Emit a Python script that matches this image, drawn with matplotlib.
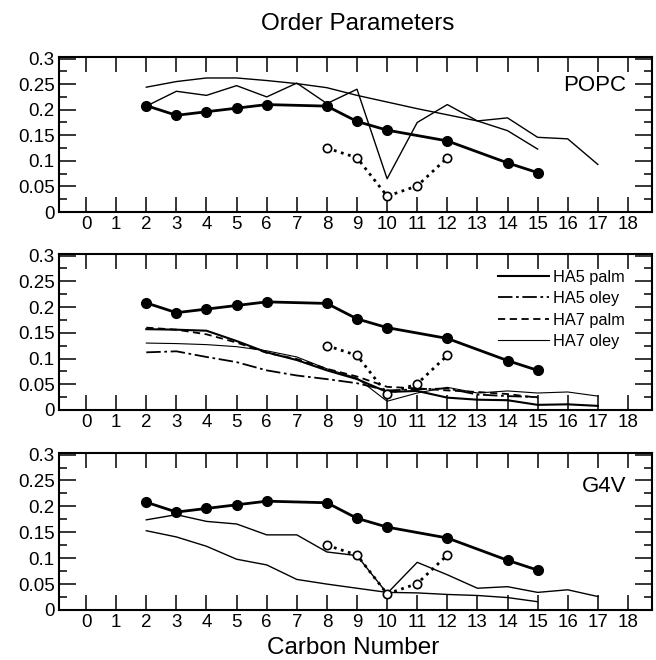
import numpy as np
import matplotlib
matplotlib.use("Agg")
import matplotlib.pyplot as plt
from matplotlib.ticker import MultipleLocator, FuncFormatter

plt.rcParams['font.family'] = ['Liberation Sans', 'DejaVu Sans']

# experimental reference (same in every panel)
exp_x = [2, 3, 4, 5, 6, 8, 9, 10, 12, 14, 15]
exp_y = [0.208, 0.189, 0.196, 0.203, 0.210, 0.207, 0.177, 0.160, 0.139, 0.096, 0.077]
exp2_x = [8, 9, 10, 11, 12]
exp2_y = [0.125, 0.106, 0.031, 0.051, 0.106]

# POPC
popc_palm_x = list(range(2, 16))
popc_palm = [0.244, 0.255, 0.262, 0.262, 0.257, 0.251, 0.243, 0.228, 0.215,
             0.202, 0.190, 0.178, 0.159, 0.123]
popc_oley_x = list(range(2, 18))
popc_oley = [0.207, 0.236, 0.228, 0.247, 0.225, 0.252, 0.212, 0.240, 0.065,
             0.175, 0.210, 0.178, 0.184, 0.146, 0.143, 0.093]

# HA5 / HA7
ha5_palm_x = list(range(2, 18))
ha5_palm = [0.157, 0.156, 0.154, 0.134, 0.112, 0.097, 0.077, 0.060, 0.035,
            0.037, 0.024, 0.020, 0.019, 0.010, 0.011, 0.008]
ha5_oley_x = list(range(2, 16))
ha5_oley = [0.112, 0.114, 0.103, 0.093, 0.077, 0.067, 0.060, 0.052, 0.038,
            0.040, 0.042, 0.030, 0.027, 0.025]
ha7_palm_x = list(range(2, 16))
ha7_palm = [0.160, 0.156, 0.147, 0.131, 0.111, 0.099, 0.080, 0.065, 0.045,
            0.042, 0.038, 0.035, 0.031, 0.024]
ha7_oley_x = list(range(2, 18))
ha7_oley = [0.130, 0.129, 0.127, 0.123, 0.115, 0.103, 0.080, 0.062, 0.017,
            0.033, 0.044, 0.033, 0.037, 0.033, 0.035, 0.027]

# G4V
g4v_a_x = list(range(2, 18))
g4v_a = [0.174, 0.184, 0.171, 0.166, 0.145, 0.145, 0.112, 0.105, 0.032,
         0.092, 0.068, 0.042, 0.045, 0.034, 0.039, 0.026]
g4v_b_x = list(range(2, 16))
g4v_b = [0.153, 0.141, 0.123, 0.098, 0.087, 0.059, 0.050, 0.042, 0.034,
         0.033, 0.030, 0.028, 0.024, 0.016]

xticks = list(range(0, 19))

fig = plt.figure(figsize=(6.56, 6.6), dpi=100)
W = 656.0
H = 660.0

def make_ax(top_px, bot_px):
    ax = fig.add_axes([59 / W, 1 - bot_px / H, (652 - 59) / W, (bot_px - top_px) / H])
    ax.set_xlim(-0.9, 18.8)
    ax.set_ylim(0, 0.303)
    ax.set_xticks(xticks)
    ax.yaxis.set_major_locator(MultipleLocator(0.05))
    ax.yaxis.set_minor_locator(MultipleLocator(0.025))
    ax.yaxis.set_major_formatter(FuncFormatter(lambda v, p: '%g' % round(v, 3)))
    ax.tick_params(axis='x', which='major', direction='in', length=11, width=1.1,
                   top=True, labelsize=13.5, pad=3)
    ax.tick_params(axis='y', which='major', direction='in', length=12, width=1.1,
                   right=True, labelsize=13.5, pad=3)
    ax.tick_params(axis='y', which='minor', direction='in', length=6, width=1.1,
                   right=True)
    for s in ax.spines.values():
        s.set_linewidth(1.5)
    return ax

def draw_exp(ax):
    ax.plot(exp_x, exp_y, color='black', lw=2, marker='o', ms=7, zorder=5)
    ax.plot(exp2_x, exp2_y, color='black', lw=2, ls=':', marker='o', ms=6,
            mfc='white', mec='black', mew=1.2, zorder=5)

ax1 = make_ax(57, 212)
draw_exp(ax1)
ax1.plot(popc_palm_x, popc_palm, color='black', lw=1.0)
ax1.plot(popc_oley_x, popc_oley, color='black', lw=1.0)
ax1.text(17.95, 0.248, 'POPC', ha='right', va='center', fontsize=16)

ax2 = make_ax(254, 410)
draw_exp(ax2)
l1, = ax2.plot(ha5_palm_x, ha5_palm, color='black', lw=1.5, label='HA5 palm')
l2, = ax2.plot(ha5_oley_x, ha5_oley, color='black', lw=1.3, ls=(0, (8, 2, 1.5, 2)), label='HA5 oley')
l3, = ax2.plot(ha7_palm_x, ha7_palm, color='black', lw=1.3, ls=(0, (4, 2.5)), label='HA7 palm')
l4, = ax2.plot(ha7_oley_x, ha7_oley, color='black', lw=0.8, label='HA7 oley')
ax2.legend(handles=[l1, l2, l3, l4], loc='upper right', bbox_to_anchor=(0.955, 0.90),
           frameon=False, fontsize=11.7, handlelength=3.1, handletextpad=0.3,
           labelspacing=0.4, borderpad=0, borderaxespad=0)

ax3 = make_ax(453, 610)
draw_exp(ax3)
ax3.plot(g4v_a_x, g4v_a, color='black', lw=1.0)
ax3.plot(g4v_b_x, g4v_b, color='black', lw=1.0)
ax3.text(17.95, 0.239, 'G4V', ha='right', va='center', fontsize=16)

fig.text(358 / W, 1 - 24 / H, 'Order Parameters', ha='center', va='center', fontsize=17.5)
fig.text(353 / W, 1 - 648 / H, 'Carbon Number', ha='center', va='center', fontsize=17.5)

fig.savefig('out.png', dpi=100)
